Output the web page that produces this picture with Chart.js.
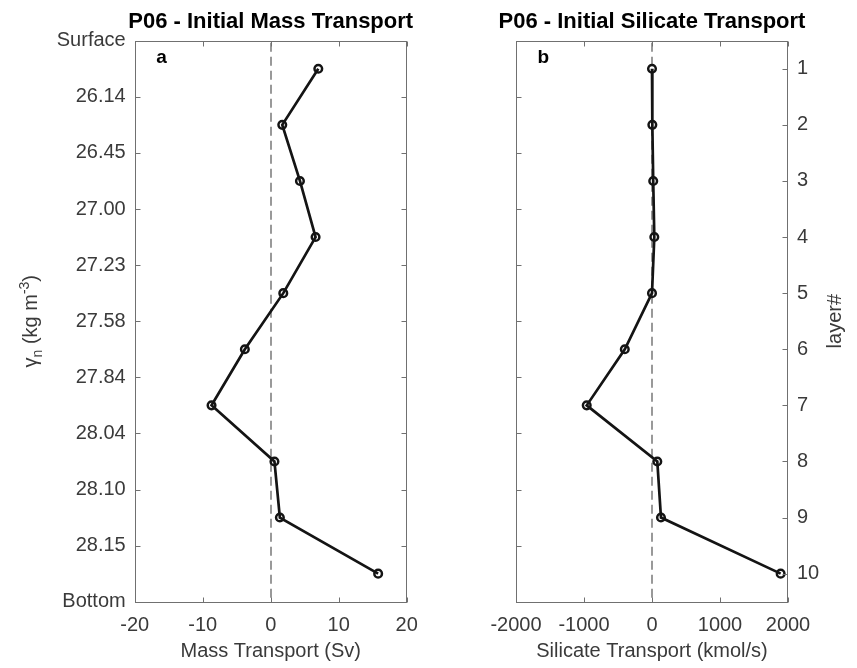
<!DOCTYPE html>
<html>
<head>
<meta charset="utf-8">
<script src="https://cdn.jsdelivr.net/npm/chart.js@4/dist/chart.umd.min.js"></script>
<style>
  html, body { margin: 0; padding: 0; background: #fff; }
  #wrap { position: relative; width: 857px; height: 668px; }
  #wrap canvas { position: absolute; left: 0; top: 0; }
</style>
</head>
<body>
<div id="wrap">
  <canvas id="massChart" width="857" height="668"></canvas>
  <canvas id="silChart" width="857" height="668"></canvas>
</div>
<script>
// Layer numbers and neutral-density boundaries (surface to bottom)
const layers = [1, 2, 3, 4, 5, 6, 7, 8, 9, 10];
const densityLabels = ['Surface', '26.14', '26.45', '27.00', '27.23', '27.58', '27.84', '28.04', '28.10', '28.15', 'Bottom'];

// Initial transports per layer
const massTransport = [7.0, 1.7, 4.3, 6.6, 1.85, -3.8, -8.7, 0.55, 1.35, 15.8];        // Sv
const silicateTransport = [0, 5, 18, 34, 0, -400, -960, 78, 132, 1892];                 // kmol/s

// Axis tick values
const massTicks = [-20, -10, 0, 10, 20];
const silicateTicks = [-2000, -1000, 0, 1000, 2000];

const FONT = "'Liberation Sans', Arial, Helvetica, sans-serif";
const INK = '#3a3a3a';
const FRAME = '#707070';
const LINE = '#141414';

const W = 857, H = 668;
const PLOT_TOP = 40.7, PLOT_BOTTOM = 601.7;

// Axis box, inward tick marks, zero reference line, titles and panel letters
function framePlugin(cfg) {
  return {
    id: 'frame_' + cfg.letter,
    beforeDatasetsDraw(chart) {
      const { ctx, chartArea: a, scales: { x } } = chart;
      const px = Math.round(x.getPixelForValue(0));
      ctx.save();
      ctx.strokeStyle = '#999999';
      ctx.lineWidth = 2;
      ctx.setLineDash([9, 5]);
      ctx.beginPath();
      ctx.moveTo(px, a.top + 2);
      ctx.lineTo(px, a.bottom);
      ctx.stroke();
      ctx.restore();
    },
    afterDraw(chart) {
      const { ctx, chartArea: a, scales: { x, y } } = chart;
      ctx.save();
      const L = Math.round(a.left) + 0.5, R = Math.round(a.right) - 0.5;
      const T = Math.round(a.top) + 0.5, B = Math.round(a.bottom) + 0.5;
      ctx.strokeStyle = FRAME;
      ctx.lineWidth = 1;
      ctx.strokeRect(L, T, R - L, B - T);
      const tl = 5;
      ctx.beginPath();
      x.ticks.forEach(t => {
        const p = Math.round(x.getPixelForValue(t.value)) + 0.5;
        ctx.moveTo(p, T); ctx.lineTo(p, T + tl);
        ctx.moveTo(p, B); ctx.lineTo(p, B - tl);
      });
      cfg.leftTicks(y).forEach(v => {
        const p = Math.round(y.getPixelForValue(v)) + 0.5;
        ctx.moveTo(L, p); ctx.lineTo(L + tl, p);
      });
      cfg.rightTicks(y).forEach(v => {
        const p = Math.round(y.getPixelForValue(v)) + 0.5;
        ctx.moveTo(R, p); ctx.lineTo(R - tl, p);
      });
      ctx.stroke();

      // panel title
      ctx.fillStyle = '#000';
      ctx.font = `bold 22px ${FONT}`;
      ctx.textAlign = 'center';
      ctx.textBaseline = 'alphabetic';
      ctx.fillText(cfg.title, (a.left + a.right) / 2, 28);

      // panel letter
      ctx.font = `bold 19px ${FONT}`;
      ctx.textAlign = 'left';
      ctx.fillText(cfg.letter, a.left + 21.5, 63);

      if (cfg.extra) cfg.extra(ctx, chart);
      ctx.restore();
    }
  };
}

// Rotated axis label built from runs with sub/superscripts
function drawRotatedRuns(ctx, cx, cy, runs) {
  ctx.save();
  ctx.translate(cx, cy);
  ctx.rotate(-Math.PI / 2);
  ctx.fillStyle = INK;
  ctx.textBaseline = 'alphabetic';
  ctx.textAlign = 'left';
  let total = 0;
  runs.forEach(r => { ctx.font = `${r.size}px ${FONT}`; r.w = ctx.measureText(r.text).width; total += r.w; });
  let xPos = -total / 2;
  const base = 7;
  runs.forEach(r => {
    ctx.font = `${r.size}px ${FONT}`;
    ctx.fillText(r.text, xPos, base + (r.dy || 0));
    xPos += r.w;
  });
  ctx.restore();
}

function commonX(min, max, tickVals, title, height) {
  return {
    type: 'linear',
    min, max,
    afterBuildTicks: s => { s.ticks = tickVals.map(v => ({ value: v })); },
    afterFit: s => { s.height = height; },
    grid: { display: false, drawTicks: false },
    border: { display: false },
    ticks: {
      autoSkip: false, maxRotation: 0, padding: 12,
      color: INK, font: { family: FONT, size: 20 },
      callback: v => String(v)
    },
    title: {
      display: true, text: title, color: INK,
      font: { family: FONT, size: 20 },
      padding: { top: 0, bottom: 5 }
    }
  };
}

function seriesData(values) {
  return values.map((v, i) => ({ x: v, y: layers[i] - 0.5 }));
}

function dataset(values) {
  return {
    data: seriesData(values),
    showLine: true,
    borderColor: LINE,
    borderWidth: 2.7,
    pointRadius: 3.8,
    pointBorderWidth: 2.5,
    pointBorderColor: LINE,
    pointBackgroundColor: 'rgba(0,0,0,0)',
    clip: false
  };
}

const edgeValues = () => densityLabels.map((_, i) => i);

// Panel a: mass transport
new Chart(document.getElementById('massChart'), {
  type: 'scatter',
  data: { datasets: [dataset(massTransport)] },
  options: {
    responsive: false,
    animation: false,
    events: [],
    devicePixelRatio: 1,
    layout: { padding: { top: PLOT_TOP, left: 0, right: W - 406.7, bottom: 0 } },
    plugins: { legend: { display: false }, tooltip: { enabled: false } },
    scales: {
      x: commonX(-20, 20, massTicks, 'Mass Transport (Sv)', H - PLOT_BOTTOM),
      y: {
        type: 'linear',
        min: 0, max: densityLabels.length - 1,
        reverse: true,
        afterBuildTicks: s => { s.ticks = edgeValues().map(v => ({ value: v })); },
        afterFit: s => { s.width = 134.7; },
        grid: { display: false, drawTicks: false },
        border: { display: false },
        ticks: {
          autoSkip: false, padding: 9, color: INK,
          font: { family: FONT, size: 20 },
          callback: v => densityLabels[Math.round(v)]
        }
      }
    }
  },
  plugins: [framePlugin({
    title: 'P06 - Initial Mass Transport',
    letter: 'a',
    leftTicks: () => edgeValues(),
    rightTicks: () => edgeValues(),
    extra: (ctx, chart) => {
      const a = chart.chartArea;
      drawRotatedRuns(ctx, 30, (a.top + a.bottom) / 2, [
        { text: 'γ', size: 20 },
        { text: 'n', size: 14, dy: 5 },
        { text: ' (kg m', size: 20 },
        { text: '-3', size: 14, dy: -8 },
        { text: ')', size: 20 }
      ]);
    }
  })]
});

// Panel b: silicate transport
new Chart(document.getElementById('silChart'), {
  type: 'scatter',
  data: { datasets: [dataset(silicateTransport)] },
  options: {
    responsive: false,
    animation: false,
    events: [],
    devicePixelRatio: 1,
    layout: { padding: { top: PLOT_TOP, left: 516, right: 0, bottom: 0 } },
    plugins: { legend: { display: false }, tooltip: { enabled: false } },
    scales: {
      x: commonX(-2000, 2000, silicateTicks, 'Silicate Transport (kmol/s)', H - PLOT_BOTTOM),
      y: {
        type: 'linear',
        position: 'right',
        min: 0, max: layers.length,
        reverse: true,
        afterBuildTicks: s => { s.ticks = layers.map(l => ({ value: l - 0.5 })); },
        afterFit: s => { s.width = W - 788; },
        grid: { display: false, drawTicks: false },
        border: { display: false },
        ticks: {
          autoSkip: false, padding: 9, color: INK,
          font: { family: FONT, size: 20 },
          callback: v => String(layers[Math.round(v - 0.5)])
        }
      }
    }
  },
  plugins: [framePlugin({
    title: 'P06 - Initial Silicate Transport',
    letter: 'b',
    leftTicks: () => edgeValues(),
    rightTicks: y => y.ticks.map(t => t.value),
    extra: (ctx, chart) => {
      const a = chart.chartArea;
      drawRotatedRuns(ctx, 834, (a.top + a.bottom) / 2, [{ text: 'layer#', size: 20 }]);
    }
  })]
});
</script>
</body>
</html>
